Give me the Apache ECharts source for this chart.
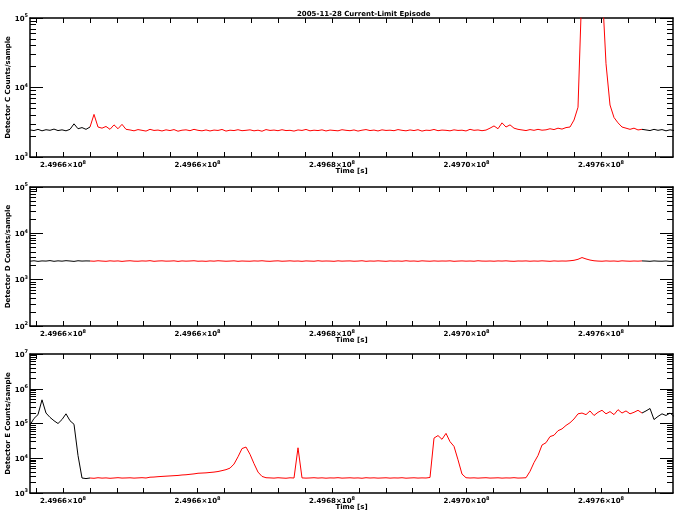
<!DOCTYPE html>
<html><head><meta charset="utf-8">
<script src="https://cdn.jsdelivr.net/npm/echarts@6/dist/echarts.min.js"></script>
<style>html,body{margin:0;padding:0;background:#fff}#c{width:684px;height:518px}</style>
</head><body><div id="c"></div>
<script>
const chartTitle = '2005-11-28 Current-Limit Episode';
const xName = 'Time [s]';
const xTickLabels = ['2.4966', '2.4966', '2.4968', '2.4970', '2.4976'];
const xTickExp = '8';
const xMajor = [0, 1, 2, 3, 4];
const xMinor = [-0.2, 0, 0.2, 0.4, 0.6, 0.8, 1, 1.2, 1.4, 1.6, 1.8, 2, 2.2, 2.4, 2.6, 2.8, 3, 3.2, 3.4, 3.6, 3.8, 4, 4.2, 4.4];
const xMin = -0.2454, xMax = 4.5353;
const sampleStart = -0.2454, sampleStep = 0.02974;   // time of sample i, in major-tick units
const redStart = 15, redEnd = 153;                     // current-limit episode (red) sample range

const detC = [
 2450,2400,2500,2380,2470,2420,2520,2400,2460,2380,2500,3000,2550,2650,2500,
 2700,4100,2700,2600,2750,2500,2900,2550,2950,2500,
 2450,2380,2480,2420,2360,2500,2410,2440,2370,2460,
 2400,2480,2350,2430,2460,2390,2500,2420,2380,2450,
 2370,2440,2410,2490,2360,2430,2400,2470,2390,2420,
 2460,2380,2430,2350,2480,2410,2440,2390,2470,2400,
 2420,2360,2450,2410,2490,2380,2430,2400,2460,2370,
 2440,2410,2380,2470,2420,2390,2450,2360,2430,2480,
 2400,2440,2370,2460,2410,2430,2390,2480,2420,2380,
 2450,2400,2470,2360,2430,2410,2490,2390,2440,2420,
 2380,2460,2410,2430,2370,2500,2420,2450,2390,2440,
 2600,2800,2550,3100,2700,2900,2600,2500,
 2450,2400,2480,2420,2500,2430,2460,2550,2480,2600,2520,2650,
 2700,3400,5200,
 300000,300000,300000,300000,300000,300000,
 22000,5600,3700,3100,2700,2600,2500,2600,2450,2500,
 2450,2400,2500,2420,2480,2380,2460,2400
];
const detD = [
 2500,2560,2480,2540,2520,2580,2490,2550,2510,2570,2530,2480,2560,2520,2540,
 2530,2500,2560,2520,2490,2550,2510,2540,2480,2530,
 2560,2510,2500,2540,2520,2570,2490,2530,2550,2510,
 2520,2550,2480,2540,2510,2530,2560,2500,2520,2490,
 2540,2510,2560,2530,2500,2520,2550,2490,2530,2510,
 2500,2540,2520,2560,2510,2490,2530,2550,2500,2520,
 2550,2510,2530,2490,2540,2520,2500,2560,2510,2530,
 2520,2490,2550,2510,2530,2540,2500,2520,2560,2490,
 2530,2510,2550,2520,2490,2540,2510,2530,2500,2560,
 2510,2530,2490,2550,2520,2500,2540,2510,2530,2520,
 2550,2490,2520,2540,2510,2530,2500,2560,2520,2510,
 2530,2500,2540,2520,2550,2510,2490,2530,2520,2540,
 2500,2530,2510,2550,2520,2490,2540,2510,2530,2520,
 2560,2620,2750,
 3000,2800,2650,2560,
 2520,2500,2540,2510,2530,2490,2550,2520,2500,2530,2510,2540,
 2520,2490,2540,2510,2500,2530,2480,2520
];
const detE = [
 90000,140000,180000,480000,200000,150000,120000,100000,130000,190000,120000,95000,12000,2700,2600,
 2700,2650,2750,2680,2720,2650,2700,2760,2690,2710,2740,2680,2720,2760,2700,
 2850,2880,2950,3000,3050,3100,3150,3200,3300,3350,3450,3550,3700,3750,3800,3900,4000,4150,4400,4700,
 5200,6800,11000,19000,21000,13000,7000,4000,3000,2750,
 2720,2680,2750,2700,2660,2740,2700,20000,2720,2680,
 2710,2750,2690,2730,2670,2720,2700,2760,2680,2710,
 2740,2690,2720,2660,2750,2700,2730,2680,2710,2740,
 2680,2720,2700,2750,2670,2710,2740,2690,2720,2700,
 2800,38000,45000,35000,52000,30000,22000,9000,3500,2750,
 2700,2730,2680,2720,2750,2690,2710,2740,2680,2720,2700,2760,2690,2710,2750,
 4200,7500,12000,24000,28000,42000,46000,62000,70000,88000,105000,135000,190000,
 200000,180000,230000,170000,210000,240000,190000,220000,180000,250000,200000,230000,190000,210000,240000,200000,
 230000,270000,130000,160000,190000,170000,200000,160000
];

const panels = [
  { name: 'Detector C Counts/sample', values: detC, yMin: 1e3, yMax: 1e5, top: 18 },
  { name: 'Detector D Counts/sample', values: detD, yMin: 1e2, yMax: 1e5, top: 187 },
  { name: 'Detector E Counts/sample', values: detE, yMin: 1e3, yMax: 1e7, top: 354 }
];

const FONT = 'DejaVu Sans';
const txt = { fontFamily: FONT, fontSize: 7, fontWeight: 'bold', color: '#000' };
const supRich = {
  b: { fontFamily: FONT, fontSize: 7, fontWeight: 'bold', color: '#000', verticalAlign: 'bottom', lineHeight: 9 },
  sup: { fontFamily: FONT, fontSize: 5, fontWeight: 'bold', color: '#000', verticalAlign: 'top', lineHeight: 9, padding: [0, 0, 4, 0] }
};
const axisLine = { show: true, onZero: false, lineStyle: { color: '#000', width: 1.5 } };

const grids = [], xAxes = [], yAxes = [], series = [];
panels.forEach((p, k) => {
  grids.push({ left: 30, right: 11, top: p.top, height: 139, containLabel: false, outerBoundsMode: 'none' });
  const xBase = { type: 'value', gridIndex: k, min: xMin, max: xMax, axisLine,
    splitLine: { show: false },
    axisTick: { show: true, inside: true, length: 5, customValues: xMinor, lineStyle: { color: '#000', width: 1 } } };
  xAxes.push(Object.assign({}, xBase, { position: 'bottom',
    axisLabel: { customValues: xMajor, margin: 3, rich: supRich,
      formatter: v => '{b|' + xTickLabels[Math.round(v)] + '×10}{sup|' + xTickExp + '}' },
    name: xName, nameLocation: 'middle', nameGap: 11, nameMoveOverlap: false, nameTextStyle: txt }));
  xAxes.push(Object.assign({}, xBase, { position: 'top', axisLabel: { show: false } }));
  const yBase = { type: 'log', logBase: 10, gridIndex: k, min: p.yMin, max: p.yMax, interval: 1, axisLine,
    splitLine: { show: false },
    axisTick: { show: true, inside: true, length: 13, lineStyle: { color: '#000', width: 1 } },
    minorTick: { show: true, splitNumber: 9, length: 6, lineStyle: { color: '#000', width: 1 } } };
  yAxes.push(Object.assign({}, yBase, { position: 'left',
    axisLabel: { margin: 2, rich: supRich,
      formatter: v => '{b|10}{sup|' + Math.round(Math.log10(v)) + '}' },
    name: p.name, nameLocation: 'middle', nameRotate: 90, nameGap: 18, nameMoveOverlap: false, nameTextStyle: txt }));
  yAxes.push(Object.assign({}, yBase, { position: 'right', axisLabel: { show: false } }));
  const all = p.values.map((v, i) => [sampleStart + i * sampleStep, v]);
  const blackData = all.map((d, i) => (i > redStart && i < redEnd) ? [d[0], null] : d);
  series.push({ type: 'line', xAxisIndex: 2 * k, yAxisIndex: 2 * k, data: blackData, connectNulls: false,
    showSymbol: false, symbol: 'none', clip: true, lineStyle: { color: '#000', width: 1 } });
  series.push({ type: 'line', xAxisIndex: 2 * k, yAxisIndex: 2 * k, data: all.slice(redStart, redEnd + 1),
    showSymbol: false, symbol: 'none', clip: true, lineStyle: { color: '#ff0000', width: 1 } });
});

const chart = echarts.init(document.getElementById('c'), null, { renderer: 'canvas' });
chart.setOption({
  animation: false,
  backgroundColor: '#fff',
  title: { text: chartTitle, left: 292, top: 6, textStyle: txt },
  grid: grids, xAxis: xAxes, yAxis: yAxes, series
});
</script></body></html>
